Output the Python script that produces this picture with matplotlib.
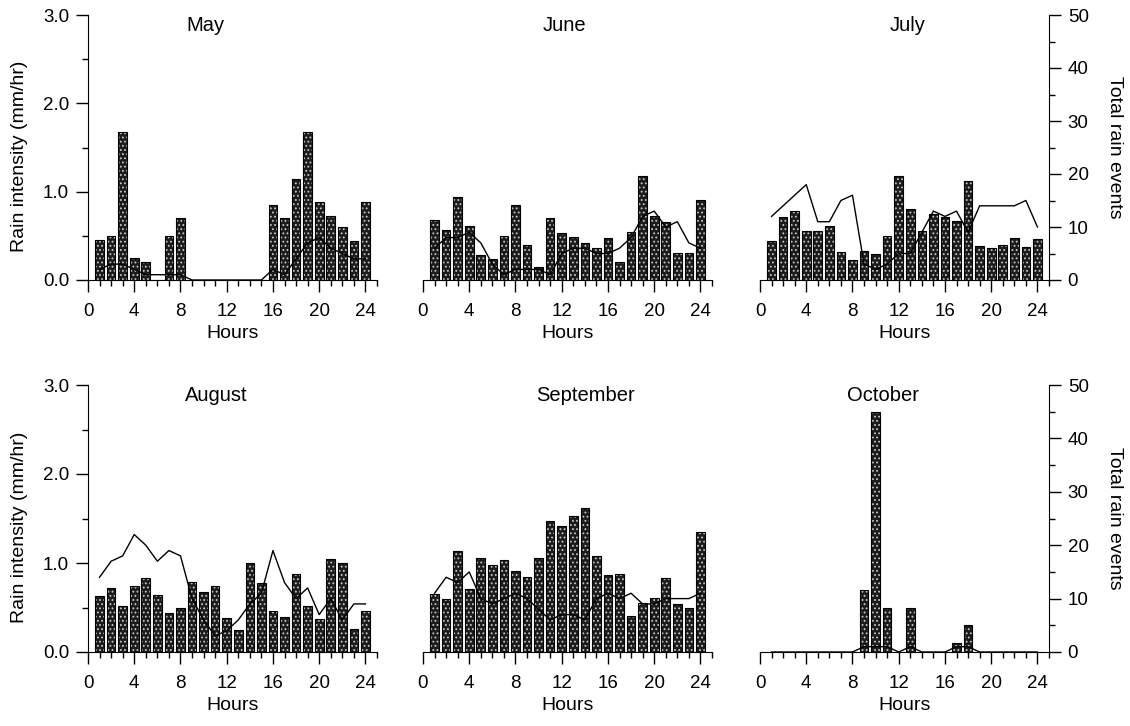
import matplotlib.pyplot as plt
import numpy as np

plt.rcParams["font.family"] = ["Liberation Sans", "DejaVu Sans"]
plt.rcParams["hatch.linewidth"] = 0.8

hours = list(range(1, 25))

may_rain = [0.45, 0.50, 1.67, 0.25, 0.20, 0, 0.50, 0.70, 0, 0, 0, 0,
            0, 0, 0, 0.85, 0.70, 1.14, 1.67, 0.88, 0.72, 0.60, 0.44, 0.88]
may_events = [2, 3, 3, 2, 1, 1, 1, 1, 0, 0, 0, 0,
              0, 0, 0, 2, 1, 4, 7, 8, 6, 5, 4, 4]

june_rain = [0.68, 0.57, 0.94, 0.61, 0.28, 0.24, 0.50, 0.85, 0.40, 0.15, 0.70, 0.53,
             0.49, 0.42, 0.36, 0.48, 0.20, 0.54, 1.18, 0.72, 0.66, 0.31, 0.31, 0.91]
june_events = [6, 8, 8, 9, 7, 3, 1, 2, 2, 2, 1, 5,
               6, 6, 5, 5, 6, 8, 12, 13, 10, 11, 7, 6]

july_rain = [0.44, 0.71, 0.78, 0.55, 0.55, 0.61, 0.32, 0.23, 0.33, 0.30, 0.50, 1.18,
             0.80, 0.56, 0.75, 0.71, 0.67, 1.12, 0.38, 0.36, 0.40, 0.47, 0.37, 0.46]
july_events = [12, 14, 16, 18, 11, 11, 15, 16, 3, 2, 3, 5,
               5, 9, 13, 12, 13, 9, 14, 14, 14, 14, 15, 10]

aug_rain = [0.63, 0.72, 0.52, 0.74, 0.83, 0.64, 0.44, 0.50, 0.79, 0.67, 0.74, 0.38,
            0.25, 1.00, 0.78, 0.46, 0.39, 0.875, 0.52, 0.375, 1.05, 1.00, 0.26, 0.46]
aug_events = [14, 17, 18, 22, 20, 17, 19, 18, 10, 6, 3, 4,
              6, 9, 11, 19, 13, 10, 12, 7, 10, 6, 9, 9]

sep_rain = [0.65, 0.60, 1.14, 0.71, 1.06, 0.98, 1.03, 0.91, 0.84, 1.06, 1.47, 1.42,
            1.53, 1.62, 1.08, 0.86, 0.88, 0.40, 0.55, 0.61, 0.83, 0.54, 0.49, 1.35]
sep_events = [11, 14, 13, 15, 10, 9, 10, 11, 10, 8, 6, 7,
              7, 6, 10, 11, 10, 11, 9, 9, 10, 10, 10, 11]

oct_rain = [0, 0, 0, 0, 0, 0, 0, 0, 0.70, 2.70, 0.50, 0,
            0.50, 0, 0, 0, 0.10, 0.30, 0, 0, 0, 0, 0, 0]
oct_events = [0, 0, 0, 0, 0, 0, 0, 0, 1, 1, 1, 0,
              1, 0, 0, 0, 1, 1, 0, 0, 0, 0, 0, 0]

months = ["May", "June", "July", "August", "September", "October"]
rain = [may_rain, june_rain, july_rain, aug_rain, sep_rain, oct_rain]
events = [may_events, june_events, july_events, aug_events, sep_events, oct_events]

# placement of the month name inside each panel (axes fraction)
title_x = [0.405, 0.488, 0.512, 0.443, 0.564, 0.426]

W, H = 1130, 726
fig = plt.figure(figsize=(W / 100, H / 100), dpi=100)

col_left = [88, 423, 760]
col_w = 289
rows = [(15, 280), (385, 652)]

for i, month in enumerate(months):
    r, c = divmod(i, 3)
    top, bot = rows[r]
    ax = fig.add_axes([col_left[c] / W, 1 - bot / H, col_w / W, (bot - top) / H])

    # stippled bars
    ax.bar(hours, rain[i], width=0.75, color="#1c1c1c", edgecolor="#c8c8c8",
           hatch="....", linewidth=0, zorder=2)
    ax.bar(hours, rain[i], width=0.75, fill=False, edgecolor="black",
           linewidth=0.8, zorder=3)

    ax.set_xlim(0, 25)
    ax.set_ylim(0, 3.0)
    ax.set_xticks(np.arange(0, 25, 4))
    ax.set_xticks(np.arange(0, 26, 1), minor=True)
    ax.set_yticks([0, 1, 2, 3])
    ax.set_yticks([0.5, 1.5, 2.5], minor=True)
    ax.set_yticklabels(["0.0", "1.0", "2.0", "3.0"])
    ax.tick_params(axis="both", which="major", direction="out", length=8.5,
                   width=1, labelsize=13.5, pad=5)
    ax.tick_params(axis="x", which="major", pad=8)
    ax.tick_params(axis="both", which="minor", direction="out", length=4, width=1)
    ax.set_xlabel("Hours", fontsize=14, labelpad=4)
    for s in ["top", "right"]:
        ax.spines[s].set_visible(False)

    ax2 = ax.twinx()
    ax2.plot(hours, events[i], color="black", linewidth=1.0, zorder=4)
    ax2.set_ylim(0, 50)
    ax2.set_xlim(0, 25)
    for s in ["top", "left", "bottom"]:
        ax2.spines[s].set_visible(False)

    if c != 0:
        ax.spines["left"].set_visible(False)
        ax.tick_params(axis="y", which="both", left=False, right=False,
                       labelleft=False, labelright=False)
    else:
        ax.tick_params(axis="y", which="both", right=False, labelright=False)
        fig.text(20 / W, 1 - ((top + bot) / 2 + 9) / H, "Rain intensity (mm/hr)",
                 rotation=90, ha="center", va="center", fontsize=14)

    if c == 2:
        ax2.set_yticks(np.arange(0, 51, 10))
        ax2.set_yticks(np.arange(5, 50, 10), minor=True)
        ax2.tick_params(axis="y", which="major", direction="out", length=8.5,
                        width=1, labelsize=13.5, pad=5)
        ax2.tick_params(axis="y", which="minor", direction="out", length=4, width=1)
        fig.text(1115 / W, 1 - (top + bot) / 2 / H, "Total rain events",
                 rotation=-90, ha="center", va="center", fontsize=14)
    else:
        ax2.spines["right"].set_visible(False)
        ax2.set_yticks([])
        ax2.tick_params(axis="y", which="both", left=False, right=False,
                        labelleft=False, labelright=False)

    ax.text(title_x[i], 0.962, month, transform=ax.transAxes,
            ha="center", va="center", fontsize=14.5)

fig.savefig("out.png", dpi=100)
